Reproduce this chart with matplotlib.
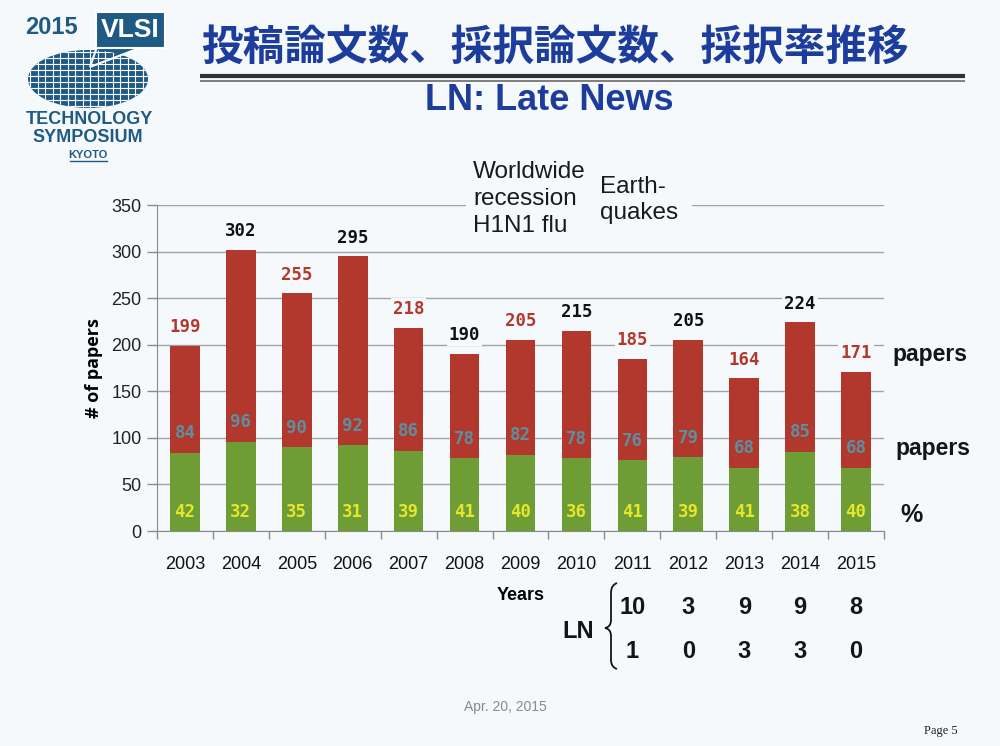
import matplotlib
matplotlib.use("Agg")
import matplotlib.pyplot as plt
import numpy as np
from matplotlib.patches import Ellipse, Rectangle, Polygon, PathPatch
from matplotlib.path import Path
import matplotlib.transforms as mtransforms

# ---------------- data ----------------
years = ["2003", "2004", "2005", "2006", "2007", "2008", "2009",
         "2010", "2011", "2012", "2013", "2014", "2015"]
submitted = [199, 302, 255, 295, 218, 190, 205, 215, 185, 205, 164, 224, 171]
accepted = [84, 96, 90, 92, 86, 78, 82, 78, 76, 79, 68, 85, 68]
accept_rate = [42, 32, 35, 31, 39, 41, 40, 36, 41, 39, 41, 38, 40]
ln_years = ["2011", "2012", "2013", "2014", "2015"]
ln_submitted = [10, 3, 9, 9, 8]
ln_accepted = [1, 0, 3, 3, 0]
yticks = [0, 50, 100, 150, 200, 250, 300, 350]

BG = "#f6f9fb"
RED = "#b2382e"
GREEN = "#6e9c35"
TEAL = "#5e8f9e"
YEL = "#e6e62a"
BLUE = "#1d3d9c"
LOGO = "#1f5a85"
NARROW = ["Liberation Sans Narrow", "Liberation Sans", "DejaVu Sans"]

W, H = 1000, 746
fig = plt.figure(figsize=(W / 100, H / 100), dpi=100, facecolor=BG)

# ---------------- main chart ----------------
L, R, T, B = 157, 884, 205, 531
ax = fig.add_axes([L / W, 1 - B / H, (R - L) / W, (B - T) / H], facecolor=BG)
x = np.arange(len(years))
bw = 0.53
acc = np.array(accepted)
sub = np.array(submitted)
ax.bar(x, acc, bw, color=GREEN, zorder=3)
ax.bar(x, sub - acc, bw, bottom=acc, color=RED, zorder=3)

ax.set_xlim(-0.5, len(years) - 0.5)
ax.set_ylim(0, 350)
ax.set_yticks(yticks)
ax.set_yticklabels([str(v) for v in yticks], fontsize=13, color="#222222",
                   family="Liberation Sans")
ax.set_xticks(x)
ax.set_xticklabels(years, fontsize=13, color="#111111", family=NARROW)
ax.set_xticks(np.arange(-0.5, len(years)), minor=True)
ax.tick_params(axis="x", which="major", length=0, pad=18)
ax.tick_params(axis="x", which="minor", length=6, color="#8a8a8a", width=1)
ax.tick_params(axis="y", length=7, color="#8a8a8a", width=1, pad=4)
ax.grid(axis="y", color="#a3a3a3", linewidth=1, zorder=0)
ax.set_axisbelow(True)
for s in ["top", "right"]:
    ax.spines[s].set_visible(False)
ax.spines["left"].set_color("#8a8a8a")
ax.spines["bottom"].set_color("#8a8a8a")
ax.spines["left"].set_bounds(0, 350)

lbl_font = dict(family="DejaVu Sans Mono", fontweight="bold", fontsize=12.5,
                ha="center", va="center", zorder=5)
for i in range(len(years)):
    c = RED if i % 2 == 0 else "#111111"
    ax.text(x[i], sub[i] + 20, str(sub[i]), color=c,
            bbox=dict(facecolor=BG, edgecolor="none", pad=1.5), **lbl_font)
    ax.text(x[i], acc[i] + 21, str(acc[i]), color=TEAL, **lbl_font)
    ax.text(x[i], 20, str(accept_rate[i]), color=YEL, **lbl_font)

ax.set_ylabel("# of papers", fontsize=13, fontweight="bold", labelpad=6,
              family="Open Sans")
ax.set_xlabel("Years", fontsize=13, fontweight="bold", labelpad=10,
              family=NARROW)

# ---------------- overlay (pixel coordinates) ----------------
ov = fig.add_axes([0, 0, 1, 1], facecolor="none", zorder=10)
ov.set_xlim(0, W)
ov.set_ylim(H, 0)
ov.axis("off")

# title
ov.text(555, 48, "投稿論文数、採択論文数、採択率推移", fontsize=30,
        fontweight="bold", color=BLUE, ha="center", va="center",
        family=["Noto Sans CJK JP", "DejaVu Sans"])
ov.plot([200, 965], [76, 76], color="#303030", lw=3, solid_capstyle="butt")
ov.plot([200, 965], [80.5, 80.5], color="#6a6a6a", lw=1.2, solid_capstyle="butt")
ov.text(549, 101, "LN: Late News", fontsize=26, fontweight="bold", color=BLUE,
        ha="center", va="center", family=NARROW)

# annotations
ov.text(473, 199, "Worldwide\nrecession\nH1N1 flu", fontsize=17.5, color="#1a1a1a",
        ha="left", va="center", linespacing=1.3, family="Liberation Sans",
        bbox=dict(facecolor=BG, edgecolor="none", pad=5))
ov.text(600, 200, "Earth-\nquakes", fontsize=17.5, color="#1a1a1a",
        ha="left", va="center", linespacing=1.22, family="Liberation Sans",
        bbox=dict(facecolor=BG, edgecolor="none", pad=10))

# right side labels
ov.text(892, 355, "papers", fontsize=16.5, fontweight="bold", color="#151515",
        ha="left", va="center", family="Liberation Sans")
ov.text(895, 448, "papers", fontsize=16.5, fontweight="bold", color="#151515",
        ha="left", va="center", family="Liberation Sans")
ov.text(900, 515, "%", fontsize=18, fontweight="bold", color="#151515",
        ha="left", va="center", family="Liberation Sans")

# LN table, aligned with the year columns
blend = mtransforms.blended_transform_factory(ax.transData, ov.transData)
for yr, s_, a_ in zip(ln_years, ln_submitted, ln_accepted):
    xi = years.index(yr)
    ov.text(xi, 607, str(s_), transform=blend, fontsize=17, fontweight="bold",
            ha="center", va="center", color="#151515", family=NARROW)
    ov.text(xi, 652, str(a_), transform=blend, fontsize=17, fontweight="bold",
            ha="center", va="center", color="#151515", family=NARROW)
ov.text(578, 632, "LN", fontsize=17, fontweight="bold", ha="center",
        va="center", color="#151515", family=NARROW)
bx = 611
verts = [(bx + 6, 583), (bx, 585), (bx, 593), (bx, 620), (bx, 627), (bx - 6, 628),
         (bx, 629), (bx, 636), (bx, 660), (bx, 667), (bx + 6, 669)]
codes = [Path.MOVETO, Path.CURVE3, Path.CURVE3, Path.LINETO, Path.CURVE3, Path.CURVE3,
         Path.CURVE3, Path.CURVE3, Path.LINETO, Path.CURVE3, Path.CURVE3]
ov.add_patch(PathPatch(Path(verts, codes), facecolor="none", edgecolor="#151515", lw=1.3))

# footer
ov.text(505, 707, "Apr. 20, 2015", fontsize=10, color="#8a8a8a", ha="center",
        va="center", family="Liberation Sans")
ov.text(958, 731, "Page 5", fontsize=9, color="#222222", ha="right",
        va="center", family="Liberation Serif")

# logo
ell = Ellipse((88, 79), 120, 58, facecolor=LOGO, edgecolor="none")
ov.add_patch(ell)
for gx in np.arange(30, 150, 7.5):
    ln, = ov.plot([gx, gx], [45, 115], color="white", lw=0.8)
    ln.set_clip_path(ell)
for gy in np.arange(52, 110, 6):
    ln, = ov.plot([25, 150], [gy, gy], color="white", lw=0.8)
    ln.set_clip_path(ell)
ov.add_patch(Polygon([(98, 44), (150, 44), (90, 67)], closed=True,
                     facecolor=LOGO, edgecolor="white", lw=1.5))
ov.add_patch(Rectangle((96, 12), 69, 36, facecolor=LOGO, edgecolor="white", lw=1.5))
ov.text(130, 30, "VLSI", fontsize=19, fontweight="bold", color="white",
        ha="center", va="center", family=NARROW)
ov.text(51, 28, "2015", fontsize=17, fontweight="bold", color=LOGO,
        ha="center", va="center", family="Liberation Sans")
ov.text(89, 120, "TECHNOLOGY", fontsize=13, fontweight="bold", color=LOGO,
        ha="center", va="center", family=NARROW)
ov.text(88, 138, "SYMPOSIUM", fontsize=13, fontweight="bold", color=LOGO,
        ha="center", va="center", family=NARROW)
ov.text(88, 155, "KYOTO", fontsize=8, fontweight="bold", color=LOGO,
        ha="center", va="center", family="Liberation Sans")
ov.plot([70, 107], [161, 161], color=LOGO, lw=1)

fig.savefig("out.png", dpi=100, facecolor=BG)
